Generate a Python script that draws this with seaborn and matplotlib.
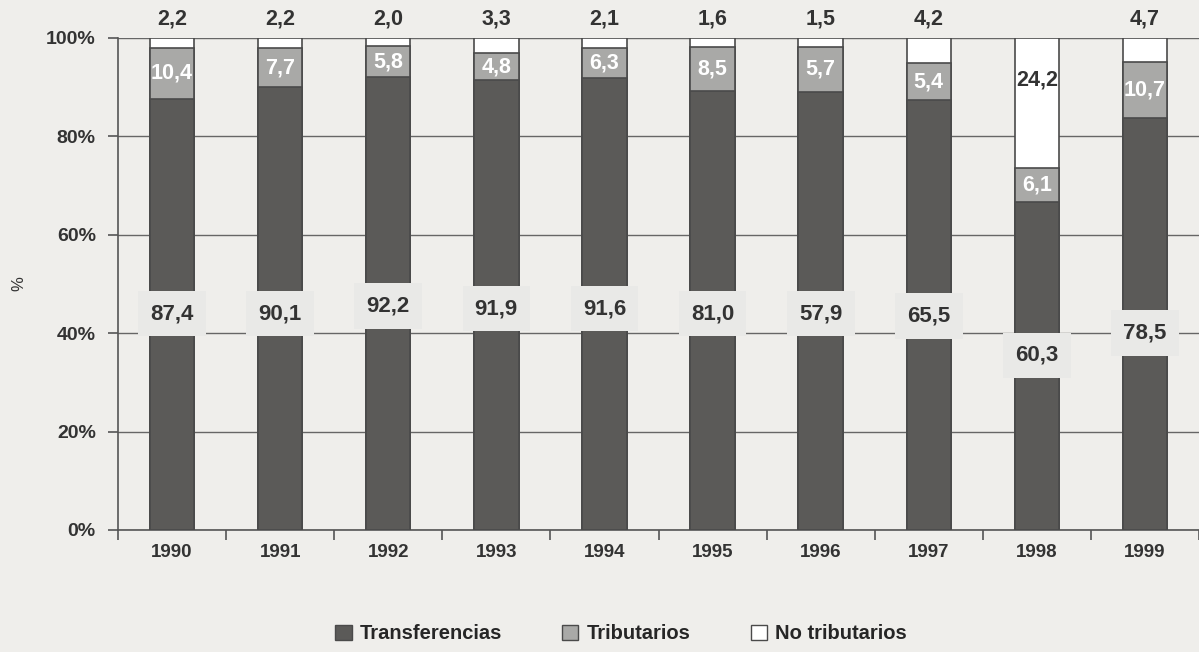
import pandas as pd
import numpy as np
import matplotlib
matplotlib.use("Agg")
import matplotlib.pyplot as plt
import seaborn as sns
from matplotlib.patches import Patch

years = ['1990', '1991', '1992', '1993', '1994', '1995', '1996', '1997', '1998', '1999']
# segment heights as drawn in the picture (percent)
transfer_drawn = [87.6, 90.1, 92.1, 91.5, 91.8, 89.2, 89.1, 87.4, 66.7, 83.7]
trib_drawn = [10.4, 7.8, 6.2, 5.4, 6.1, 9.0, 9.0, 7.5, 6.9, 11.5]
# printed labels
transfer_labels = ['87,4', '90,1', '92,2', '91,9', '91,6', '81,0', '57,9', '65,5', '60,3', '78,5']
trib_labels = ['10,4', '7,7', '5,8', '4,8', '6,3', '8,5', '5,7', '5,4', '6,1', '10,7']
notrib_labels = ['2,2', '2,2', '2,0', '3,3', '2,1', '1,6', '1,5', '4,2', '24,2', '4,7']

bg = '#efeeeb'
c_dark = '#5b5a58'
c_mid = '#a9a9a7'
c_white = '#ffffff'
edge = '#4a4a4a'
txt = '#333333'

sns.set_style("white")
plt.rcParams['font.family'] = ['Liberation Sans', 'DejaVu Sans']

df = pd.DataFrame({'year': years, 'transfer': transfer_drawn, 'trib': trib_drawn})
df['trib_top'] = df['transfer'] + df['trib']
df['total'] = 100.0

fig = plt.figure(figsize=(11.99, 6.52), dpi=100, facecolor=bg)
ax = fig.add_axes([118 / 1199, 1 - 530 / 652, 1 - 118 / 1199, (530 - 38) / 652])
ax.set_facecolor(bg)

w = 0.41
sns.barplot(data=df, x='year', y='total', color=c_white, edgecolor=edge, linewidth=1.2,
            width=w, saturation=1, ax=ax, zorder=3)
sns.barplot(data=df, x='year', y='trib_top', color=c_mid, edgecolor=edge, linewidth=1.2,
            width=w, saturation=1, ax=ax, zorder=3)
sns.barplot(data=df, x='year', y='transfer', color=c_dark, edgecolor=edge, linewidth=1.2,
            width=w, saturation=1, ax=ax, zorder=3)

ax.set_xlim(-0.5, len(years) - 0.5)
ax.set_ylim(0, 100)
ax.set_yticks(np.arange(0, 101, 20))
ax.set_yticklabels([f'{v}%' for v in range(0, 101, 20)], fontsize=14, fontweight='bold', color=txt)
ax.grid(axis='y', color='#666666', linewidth=1.0, zorder=0)
ax.set_axisbelow(True)
for s in ['top', 'right']:
    ax.spines[s].set_visible(False)
for s in ['left', 'bottom']:
    ax.spines[s].set_color('#555555')
    ax.spines[s].set_linewidth(1.2)
ax.tick_params(axis='y', left=True, length=7, width=1.2, color='#555555', pad=9)
ax.set_xticks(range(len(years)))
ax.set_xticklabels(years, fontsize=13.5, fontweight='bold', color=txt)
ax.set_xticks(np.arange(-0.5, len(years), 1), minor=True)
ax.tick_params(axis='x', which='major', bottom=False, length=0, pad=10)
ax.tick_params(axis='x', which='minor', bottom=True, length=7, width=1.2, color='#555555')
ax.set_xlabel('')
ax.set_ylabel('%', fontsize=12, color=txt)
ax.yaxis.set_label_coords(-0.085, 0.5)

# labels
label_pos = [44, 44, 45.5, 45, 45, 44, 44, 43.5, 35.5, 40]
for i in range(len(years)):
    ax.text(i, label_pos[i], transfer_labels[i], ha='center', va='center', fontsize=16,
            fontweight='bold', color=txt, zorder=5,
            bbox=dict(boxstyle='square,pad=0.55', fc='#e9e9e7', ec='none'))
    ax.text(i, transfer_drawn[i] + trib_drawn[i] / 2, trib_labels[i], ha='center', va='center',
            fontsize=15.5, fontweight='bold', color='white', zorder=5)
    top_white = 100 - transfer_drawn[i] - trib_drawn[i]
    if top_white > 10:
        ax.text(i, 91.5, notrib_labels[i], ha='center', va='center', fontsize=15.5,
                fontweight='bold', color=txt, zorder=5)
    else:
        ax.text(i, 103.8, notrib_labels[i], ha='center', va='center', fontsize=15.5,
                fontweight='bold', color=txt, zorder=5, clip_on=False)

handles = [Patch(fc=c_dark, ec=edge, lw=1), Patch(fc=c_mid, ec=edge, lw=1), Patch(fc=c_white, ec=edge, lw=1)]
fig.legend(handles, ['Transferencias', 'Tributarios', 'No tributarios'], loc='center',
           bbox_to_anchor=(0.518, 0.028), ncol=3, frameon=False, handlelength=0.8, handleheight=0.8,
           handletextpad=0.4, columnspacing=3.0, prop={'size': 14.5, 'weight': 'bold'})

fig.savefig('out.png', dpi=100, facecolor=bg)
